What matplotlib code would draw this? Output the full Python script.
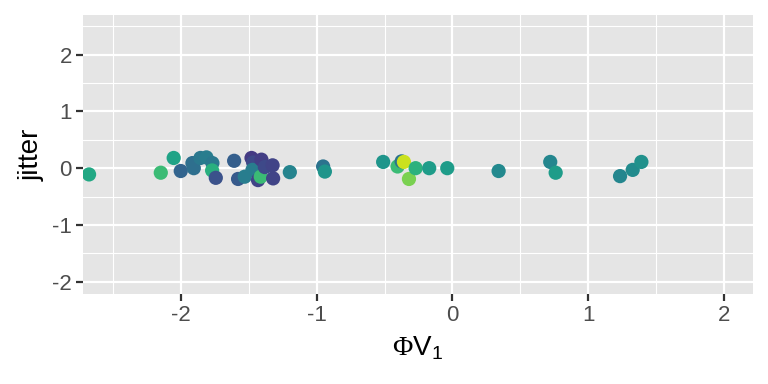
import numpy as np
import matplotlib
matplotlib.use("Agg")
import matplotlib.pyplot as plt

plt.rcParams['font.family'] = ['Liberation Sans', 'DejaVu Sans']
plt.rcParams['mathtext.fontset'] = 'custom'
plt.rcParams['mathtext.rm'] = 'Liberation Serif'
plt.rcParams['mathtext.sf'] = 'Liberation Sans'

# values
phi_v1 = [-2.675, -2.147, -2.052, -2.000, -1.914, -1.904, -1.855, -1.811,
          -1.767, -1.769, -1.742, -1.607, -1.578, -1.529, -1.479, -1.467,
          -1.472, -1.431, -1.406, -1.411, -1.381, -1.324, -1.320, -1.197,
          -0.952, -0.939, -0.510, -0.404, -0.374, -0.357, -0.320, -0.271,
          -0.171, -0.038, 0.340, 0.720, 0.760, 1.234, 1.327, 1.391]
jitter = [-0.11, -0.08, 0.18, -0.05, 0.09, 0.00, 0.18, 0.19,
          0.09, -0.04, -0.17, 0.13, -0.19, -0.15, 0.18, 0.10,
          -0.03, -0.21, 0.15, -0.15, 0.02, 0.05, -0.18, -0.07,
          0.03, -0.06, 0.11, 0.03, 0.12, 0.11, -0.19, 0.00,
          0.00, 0.00, -0.05, 0.11, -0.08, -0.14, -0.03, 0.11]
colour = [0.60, 0.68, 0.58, 0.32, 0.36, 0.36, 0.40, 0.42,
          0.40, 0.63, 0.25, 0.30, 0.28, 0.42, 0.17, 0.22,
          0.42, 0.20, 0.18, 0.68, 0.22, 0.20, 0.20, 0.45,
          0.38, 0.52, 0.52, 0.68, 0.38, 0.92, 0.80, 0.64,
          0.55, 0.55, 0.47, 0.46, 0.55, 0.46, 0.48, 0.50]

fig = plt.figure(figsize=(7.68, 3.84), dpi=100)
ax = fig.add_axes([0.108, 0.234, 0.872, 0.727])
ax.set_facecolor('#e5e5e5')

ax.scatter(phi_v1, jitter, c=colour, cmap='viridis', vmin=0, vmax=1,
           s=105, linewidths=0, zorder=3)

ax.set_xlim(-2.72, 2.21)
ax.set_ylim(-2.22, 2.70)
ax.set_xticks([-2, -1, 0, 1, 2])
ax.set_yticks([-2, -1, 0, 1, 2])
ax.set_xticklabels(['-2', '-1', '0', '1', '2'])
ax.set_yticklabels(['-2', '-1', '0', '1', '2'])
ax.set_xticks(np.arange(-2.5, 2.5, 1.0), minor=True)
ax.set_yticks(np.arange(-1.5, 3.0, 1.0), minor=True)

ax.grid(which='major', color='white', linewidth=1.6, zorder=0)
ax.grid(which='minor', color='white', linewidth=0.8, zorder=0)
ax.set_axisbelow(True)
for sp in ax.spines.values():
    sp.set_visible(False)

ax.tick_params(which='major', length=5, width=1.6, color='#333333',
               labelcolor='#4d4d4d', labelsize=16, pad=3)
ax.tick_params(which='minor', length=0)

ax.set_xlabel(r'$\mathrm{\Phi}\mathsf{V}_\mathsf{1}$', fontsize=20,
              color='black', labelpad=6)
ax.set_ylabel('jitter', fontsize=20, color='black', labelpad=5)

fig.savefig('out.png', dpi=100)
